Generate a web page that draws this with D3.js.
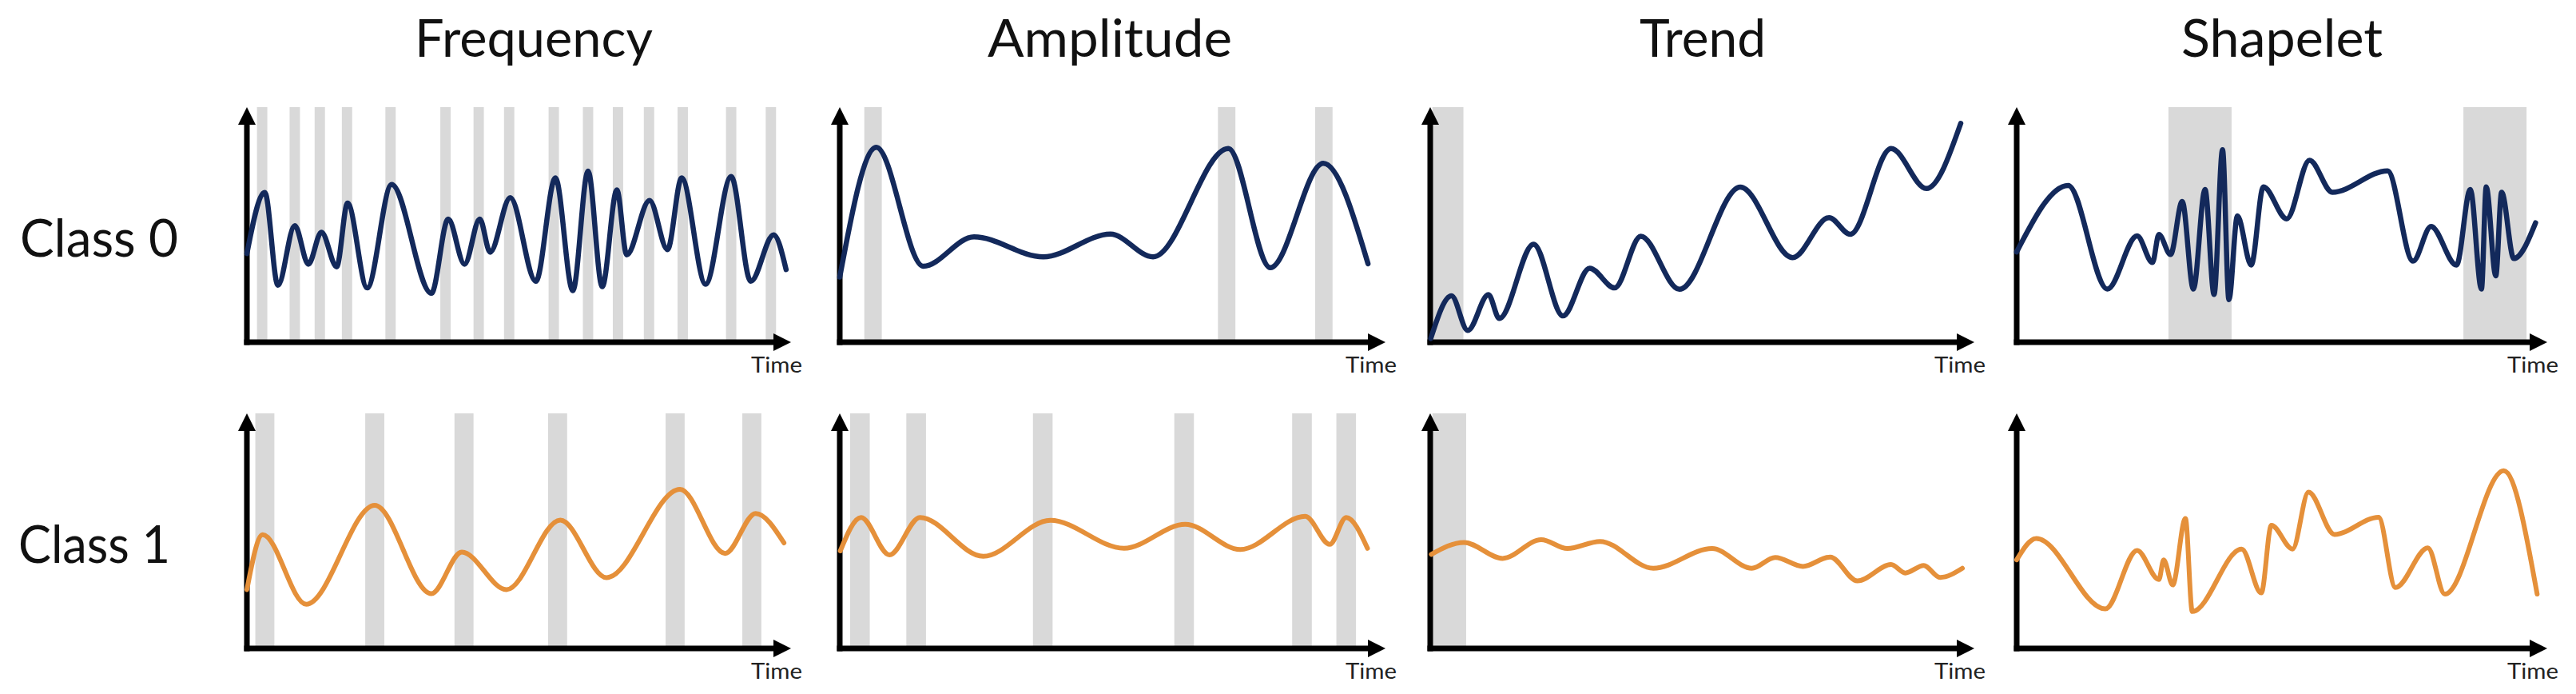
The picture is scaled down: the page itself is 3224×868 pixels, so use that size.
<!DOCTYPE html>
<html>
<head>
<meta charset="utf-8">
<script src="https://cdn.jsdelivr.net/npm/d3@7"></script>
<style>
  body { margin: 0; background: #fff; }
  svg { display: block; }
</style>
</head>
<body>
<div id="chart"></div>
<script>
var svgWidth = 3224;
var svgHeight = 868;

// Labels
var titles = ["Frequency", "Amplitude", "Trend", "Shapelet"];
var classLabels = ["Class 0", "Class 1"];
var axisLabel = "Time";

// Series values: [time, value], both on a 0-100 scale
var freqClass0 = [[0,37.7],[3.3,63.7],[5.7,24.2],[8.8,49.6],[11.3,33.2],[13.7,46.8],[16.5,32.1],[18.5,59.2],[22.1,23.1],[26.6,67.1],[33.9,20.8],[37.0,52.4],[40.0,33.2],[42.8,52.4],[44.7,38.3],[48.4,61.5],[53.1,25.9],[56.7,69.9],[59.9,21.9],[62.7,72.8],[65.3,23.6],[68.0,64.8],[69.8,37.2],[74.0,60.3],[77.3,39.4],[79.9,69.9],[84.3,24.7],[89.0,70.5],[92.6,25.9],[96.8,45.7],[99.1,30.9]];
var ampClass0 = [[0,27.7],[6.7,82.9],[15.3,32.3],[24.6,44.8],[37.3,36.3],[49.6,46.0],[57.4,36.3],[71.2,82.4],[78.9,31.7],[88.6,76.1],[96.8,33.4]];
var trendClass0 = [[0.1,1.6],[3.9,19.7],[6.9,5.0],[10.7,20.2],[12.7,10.1],[19.0,41.7],[24.4,11.2],[29.3,31.5],[33.9,23.1],[38.7,45.1],[45.8,22.5],[57.0,66.0],[66.6,36.0],[73.3,53.0],[77.2,45.9],[84.7,82.4],[91.2,65.4],[97.5,93.1]];
var shapeClass0 = [[0,38.4],[9.7,66.7],[17.1,22.6],[22.7,45.2],[25.6,33.9],[26.8,45.8],[29.0,37.3],[31.2,59.9],[33.3,22.6],[35.5,65.0],[37.2,20.3],[38.8,81.9],[40.0,18.1],[41.6,53.7],[44.2,32.8],[46.5,66.1],[50.9,52.5],[55.2,77.4],[59.5,63.8],[69.9,72.9],[74.7,34.5],[78.1,49.2],[82.9,32.8],[85.5,65.0],[87.6,22.6],[88.5,66.1],[90.3,28.2],[91.4,63.8],[93.7,35.6],[97.8,50.8]];

var freqClass1 = [[0,25.0],[2.9,48.4],[10.9,18.8],[23.5,60.9],[33.9,23.3],[39.5,41.0],[47.7,25.0],[57.6,54.6],[66.1,30.1],[79.6,67.7],[87.9,40.4],[93.5,57.4],[98.7,44.9]];
var ampClass1 = [[0.1,41.5],[3.9,55.7],[9.1,39.8],[14.7,55.7],[26.3,39.2],[38.6,54.5],[52.1,42.6],[63.3,52.8],[73.4,42.1],[85.3,56.2],[89.8,44.3],[92.8,55.7],[96.7,42.6]];
var trendClass1 = [[0.2,40.0],[6.2,45.1],[13.3,38.3],[20.4,46.3],[25.2,42.5],[31.2,45.5],[41.0,34.1],[51.8,42.5],[59.1,34.1],[63.4,38.7],[68.5,34.9],[73.5,38.9],[78.5,28.7],[84.7,35.7],[87.3,32.1],[90.7,35.3],[93.7,30.2],[97.8,34.1]];
var shapeClass1 = [[0,37.7],[3.7,46.8],[16.7,16.8],[22.7,41.7],[26.8,29.3],[27.7,37.7],[29.4,27.0],[31.8,55.3],[33.1,15.7],[42.4,42.3],[46.1,23.6],[48.0,52.4],[52.0,42.3],[55.0,66.5],[59.9,48.5],[68.2,55.8],[71.4,25.9],[77.5,42.8],[80.7,23.1],[91.8,75.6],[98.1,23.1]];

// Highlighted time spans: [start, end]
var freqBands0 = [[1.85,3.75],[7.85,9.75],[12.45,14.35],[17.45,19.35],[25.45,27.35],[35.55,37.45],[41.65,43.55],[47.25,49.15],[55.45,57.35],[61.75,63.65],[67.25,69.15],[72.95,74.85],[79.15,81.05],[88.05,89.95],[95.35,97.25]];
var ampBands0 = [[4.5,7.7],[69.3,72.5],[87.1,90.3]];
var trendBands0 = [[0.4,6.1]];
var shapeBands0 = [[28.6,40.5],[84.2,96.1]];
var freqBands1 = [[1.55,5.05],[21.75,25.25],[38.15,41.65],[55.35,58.85],[76.95,80.45],[91.05,94.55]];
var ampBands1 = [[1.9,5.5],[12.2,15.8],[35.4,39.0],[61.3,64.9],[82.9,86.5],[91.0,94.6]];
var trendBands1 = [[0.4,6.6]];
var shapeBands1 = [];

var seriesRows = [
    [freqClass0, ampClass0, trendClass0, shapeClass0],
    [freqClass1, ampClass1, trendClass1, shapeClass1]
];
var bandRows = [
    [freqBands0, ampBands0, trendBands0, shapeBands0],
    [freqBands1, ampBands1, trendBands1, shapeBands1]
];

// Layout (pixels)
var columns = [
    { left: 309, right: 990, titleX: 668, titleW: 298 },
    { left: 1051, right: 1734, titleX: 1389, titleW: 306 },
    { left: 1790, right: 2471, titleX: 2131, titleW: 158 },
    { left: 2524, right: 3188, titleX: 2856, titleW: 252 }
];
var rows = [
    { base: 428, top: 134, labelY: 321, labelX: 25, labelW: 198, color: "#13295b", width: 6.5 },
    { base: 811, top: 517, labelY: 704, labelX: 23, labelW: 190, color: "#e5903a", width: 6 }
];
var arrowLen = 22;
var fontFamily = "Lato, 'Noto Sans', sans-serif";

// font size that gives the wanted cap height
function capSize(cap) {
    var ctx = document.createElement("canvas").getContext("2d");
    ctx.font = "100px " + fontFamily;
    var m = ctx.measureText("H");
    return cap / m.actualBoundingBoxAscent * 100;
}
var bigSize = capSize(48);
var smallSize = capSize(20);

var svg = d3.select("#chart")
    .append("svg")
    .attr("width", svgWidth)
    .attr("height", svgHeight);

svg.append("defs").append("marker")
    .attr("id", "arrow")
    .attr("viewBox", "0 0 22 22")
    .attr("markerWidth", arrowLen)
    .attr("markerHeight", arrowLen)
    .attr("markerUnits", "userSpaceOnUse")
    .attr("refX", 0)
    .attr("refY", 11)
    .attr("orient", "auto")
    .append("path")
    .attr("d", "M0,0L22,11L0,22Z")
    .attr("fill", "#000");

// Column titles
svg.selectAll(".title")
    .data(titles)
    .enter()
    .append("text")
    .classed("title", true)
    .attr("x", (d, i) => columns[i].titleX - columns[i].titleW / 2)
    .attr("y", 70.5)
    .attr("font-family", fontFamily)
    .attr("font-size", bigSize)
    .attr("textLength", (d, i) => columns[i].titleW)
    .attr("lengthAdjust", "spacingAndGlyphs")
    .attr("fill", "#111")
    .text(d => d);

// Row labels
svg.selectAll(".class-label")
    .data(classLabels)
    .enter()
    .append("text")
    .classed("class-label", true)
    .attr("x", (d, i) => rows[i].labelX)
    .attr("y", (d, i) => rows[i].labelY)
    .attr("font-family", fontFamily)
    .attr("font-size", bigSize)
    .attr("textLength", (d, i) => rows[i].labelW)
    .attr("lengthAdjust", "spacingAndGlyphs")
    .attr("fill", "#111")
    .text(d => d);

rows.forEach(function (row, r) {
    columns.forEach(function (col, c) {
        var x = d3.scaleLinear().domain([0, 100]).range([col.left, col.right]);
        var y = d3.scaleLinear().domain([0, 100]).range([row.base, row.top]);
        var g = svg.append("g").attr("class", "panel");

        // gray spans
        g.selectAll("rect")
            .data(bandRows[r][c])
            .enter()
            .append("rect")
            .attr("x", d => x(d[0]))
            .attr("width", d => x(d[1]) - x(d[0]))
            .attr("y", y(100))
            .attr("height", y(0) - y(100))
            .attr("fill", "#d9d9d9");

        // axes with arrow heads
        g.append("line")
            .attr("x1", x(0)).attr("y1", y(0))
            .attr("x2", x(100) - arrowLen).attr("y2", y(0))
            .attr("stroke", "#000")
            .attr("stroke-width", 7)
            .attr("stroke-linecap", "square")
            .attr("marker-end", "url(#arrow)");
        g.append("line")
            .attr("x1", x(0)).attr("y1", y(0))
            .attr("x2", x(0)).attr("y2", y(100) + arrowLen)
            .attr("stroke", "#000")
            .attr("stroke-width", 7)
            .attr("stroke-linecap", "square")
            .attr("marker-end", "url(#arrow)");

        g.append("text")
            .attr("x", x(100) + 14)
            .attr("y", y(0) + 38)
            .attr("text-anchor", "end")
            .attr("font-family", fontFamily)
            .attr("font-size", smallSize)
            .attr("textLength", 64)
            .attr("lengthAdjust", "spacingAndGlyphs")
            .attr("fill", "#222")
            .text(axisLabel);

        // series
        var line = d3.line()
            .x(d => x(d[0]))
            .y(d => y(d[1]))
            .curve(d3.curveMonotoneX);
        g.append("path")
            .datum(seriesRows[r][c])
            .attr("d", line)
            .attr("fill", "none")
            .attr("stroke", row.color)
            .attr("stroke-width", row.width)
            .attr("stroke-linejoin", "round")
            .attr("stroke-linecap", "round");
    });
});
</script>
</body>
</html>
